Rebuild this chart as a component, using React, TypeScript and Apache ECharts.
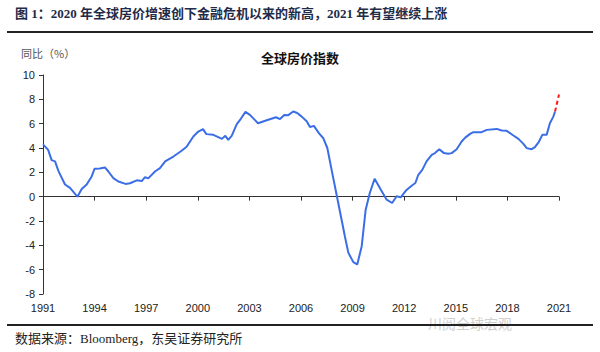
import React, { useEffect, useRef } from "react";
import * as echarts from "echarts";

const BASE_YEAR = 1991;
const xTickYears = [1991, 1994, 1997, 2000, 2003, 2006, 2009, 2012, 2015, 2018, 2021];
const yTicks = [-8, -6, -4, -2, 0, 2, 4, 6, 8, 10];

const years = [
  1991.0, 1991.3, 1991.5, 1991.7, 1991.9, 1992.28, 1992.57, 1993.0, 1993.25, 1993.54,
  1993.83, 1994.0, 1994.3, 1994.6, 1994.8, 1995.09, 1995.38, 1995.8, 1996.06, 1996.45,
  1996.74, 1996.93, 1997.12, 1997.51, 1997.8, 1998.1, 1998.58, 1999.06, 1999.35, 1999.74,
  2000.03, 2000.3, 2000.5, 2000.9, 2001.19, 2001.4, 2001.6, 2001.77, 2001.97, 2002.26,
  2002.5, 2002.77, 2003.03, 2003.5, 2004.05, 2004.55, 2004.78, 2005.03, 2005.26, 2005.55,
  2005.78, 2006.04, 2006.33, 2006.52, 2006.75, 2007.05, 2007.3, 2007.53, 2007.78, 2008.07,
  2008.36, 2008.55, 2008.75, 2009.04, 2009.27, 2009.53, 2009.76, 2010.0, 2010.28, 2010.65,
  2010.98, 2011.3, 2011.56, 2011.8, 2012.1, 2012.45, 2012.65, 2012.82, 2013.05, 2013.3,
  2013.6, 2013.79, 2014.04, 2014.31, 2014.56, 2014.76, 2015.05, 2015.34, 2015.55, 2015.83,
  2016.02, 2016.5, 2016.8, 2017.38, 2017.67, 2017.96, 2018.35, 2018.64, 2018.93, 2019.12,
  2019.41, 2019.6, 2019.84, 2020.03, 2020.28, 2020.47, 2020.67, 2020.77,
];
const values = [
  4.3, 3.85, 3.0, 2.9, 2.1, 1.0, 0.72, 0.0, 0.63, 1.0,
  1.66, 2.3, 2.32, 2.4, 2.07, 1.53, 1.25, 1.05, 1.1, 1.34,
  1.28, 1.6, 1.5, 2.07, 2.35, 2.9, 3.3, 3.77, 4.1, 4.94,
  5.35, 5.55, 5.14, 5.08, 4.9, 4.75, 5.0, 4.67, 5.0, 5.95,
  6.4, 6.97, 6.72, 6.04, 6.3, 6.53, 6.38, 6.72, 6.7, 7.0,
  6.88, 6.58, 6.2, 5.72, 5.82, 5.2, 4.8, 4.0, 2.2, 0.16,
  -1.9, -3.25, -4.6, -5.38, -5.57, -4.07, -1.07, 0.3, 1.47, 0.55,
  -0.25, -0.52, 0.03, -0.05, 0.5, 0.92, 1.12, 1.8, 2.2, 2.9,
  3.44, 3.58, 3.9, 3.58, 3.52, 3.58, 3.9, 4.53, 4.85, 5.16,
  5.3, 5.3, 5.49, 5.57, 5.44, 5.41, 5.03, 4.75, 4.34, 3.99,
  3.9, 4.07, 4.53, 5.08, 5.08, 6.04, 6.58, 7.0,
];
const forecastYears = [2020.77, 2021.0];
const forecastValues = [7.0, 8.4];

const headerText = "图 1：2020 年全球房价增速创下金融危机以来的新高，2021 年有望继续上涨";
const footerText = "数据来源：Bloomberg，东吴证券研究所";
const chartTitle = "全球房价指数";
const yUnit = "同比（%）";
const watermark = "川阅全球宏观";

export default function App() {
  const ref = useRef<HTMLDivElement>(null);
  useEffect(() => {
    if (!ref.current) return;
    const chart = echarts.init(ref.current, undefined, { renderer: "svg" });
    const xMin = xTickYears[0] - BASE_YEAR;
    const xMax = xTickYears[xTickYears.length - 1] - BASE_YEAR;
    const xInterval = xTickYears[1] - xTickYears[0];
    const serifFont = "'Liberation Serif', 'Noto Sans CJK SC', serif";
    const sansFont = "'Liberation Sans', Arial, sans-serif";
    const axisColor = "#333";
    chart.setOption({
      animation: false,
      backgroundColor: "#ffffff",
      title: {
        text: chartTitle,
        left: "center",
        top: 46,
        textStyle: { fontSize: 13, fontWeight: "bold", color: "#111", fontFamily: "'Noto Sans CJK SC', sans-serif" },
      },
      grid: { left: 43, right: 41, top: 75, bottom: 58, containLabel: false },
      xAxis: [
        {
          type: "value",
          min: xMin,
          max: xMax,
          interval: xInterval,
          position: "bottom",
          axisLine: { show: false, onZero: false },
          axisTick: { show: false },
          splitLine: { show: false },
          axisLabel: {
            formatter: (v: number) => String(v + BASE_YEAR),
            fontSize: 11,
            color: "#222",
            fontFamily: sansFont,
            margin: 8,
          },
        },
        {
          type: "value",
          min: xMin,
          max: xMax,
          interval: xInterval,
          position: "bottom",
          axisLine: { show: true, onZero: true, lineStyle: { color: axisColor, width: 1 } },
          axisTick: { show: true, length: 4, inside: false, lineStyle: { color: axisColor } },
          splitLine: { show: false },
          axisLabel: { show: false },
        },
      ],
      yAxis: {
        type: "value",
        min: yTicks[0],
        max: yTicks[yTicks.length - 1],
        interval: yTicks[1] - yTicks[0],
        axisLine: { show: true, lineStyle: { color: axisColor, width: 1 } },
        axisTick: { show: true, length: 4, lineStyle: { color: axisColor } },
        splitLine: { show: false },
        axisLabel: { fontSize: 11, color: "#222", fontFamily: sansFont, margin: 8 },
      },
      series: [
        {
          type: "line",
          xAxisIndex: 0,
          data: years.map((y, i) => [y - BASE_YEAR, values[i]]),
          showSymbol: false,
          symbol: "none",
          lineStyle: { color: "#3b6ee6", width: 2 },
          z: 3,
        },
        {
          type: "line",
          xAxisIndex: 0,
          data: forecastYears.map((y, i) => [y - BASE_YEAR, forecastValues[i]]),
          showSymbol: false,
          symbol: "none",
          lineStyle: { color: "#ff1a1a", width: 2, type: [4, 3] },
          z: 3,
        },
      ],
      graphic: [
        {
          type: "text",
          left: 15,
          top: 7,
          style: { text: headerText, fontSize: 13, fontWeight: "bold", fill: "#1f2b48", fontFamily: serifFont },
        },
        {
          type: "line",
          shape: { x1: 7, y1: 32, x2: 593, y2: 32 },
          style: { stroke: "#222", lineWidth: 2 },
        },
        {
          type: "text",
          left: 21,
          top: 47,
          style: { text: yUnit, fontSize: 11, fill: "#555", fontFamily: "'Noto Sans CJK SC', sans-serif" },
        },
        {
          type: "text",
          left: 428,
          top: 316,
          style: { text: watermark, fontSize: 14, fill: "#d0d0d0", fontFamily: "'Noto Sans CJK SC', sans-serif" },
        },
        {
          type: "line",
          shape: { x1: 7, y1: 325, x2: 593, y2: 325 },
          style: { stroke: "#222", lineWidth: 2 },
        },
        {
          type: "text",
          left: 15,
          top: 332,
          style: { text: footerText, fontSize: 13, fill: "#222", fontFamily: serifFont },
        },
      ],
    });
    return () => chart.dispose();
  }, []);
  return <div ref={ref} style={{ position: "fixed", left: 0, top: 0, width: 600, height: 352 }} />;
}
